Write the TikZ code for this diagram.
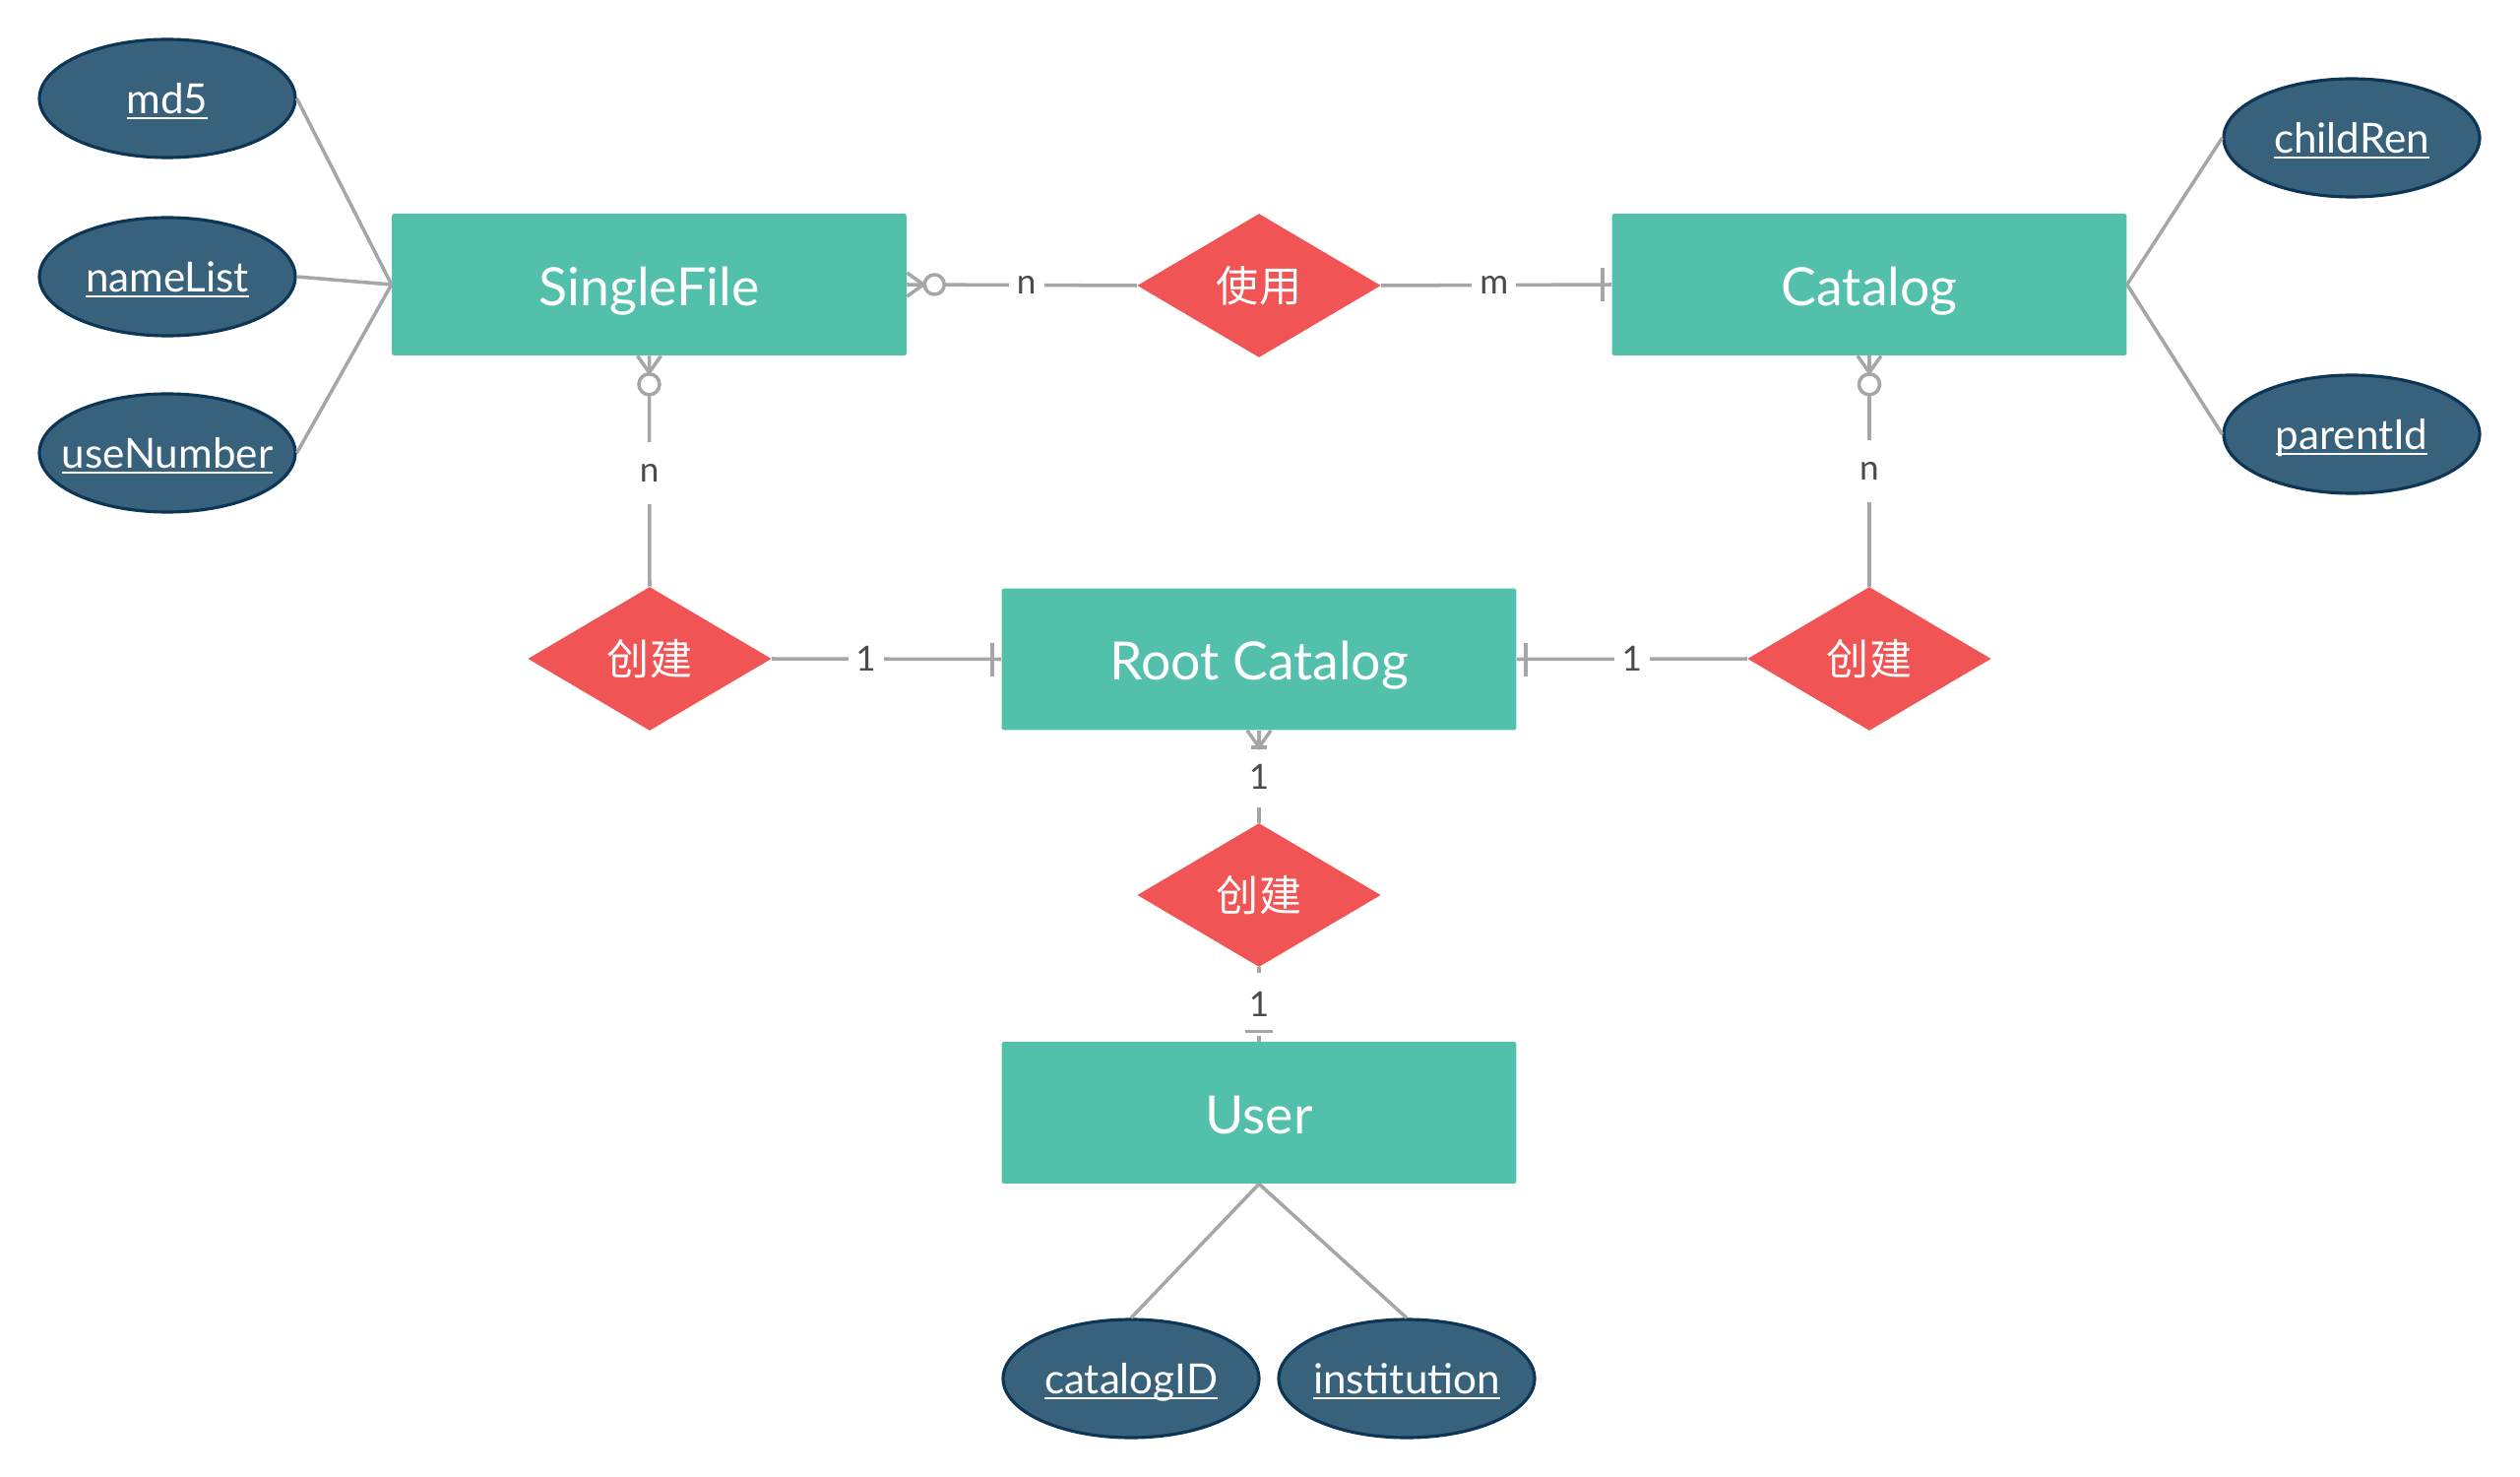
\documentclass[tikz,border=0pt]{standalone}
\usepackage{fontspec}
\setmainfont{Lato}
\newfontfamily\cjkfont{Noto Sans CJK SC}
\usetikzlibrary{shapes.geometric,calc}

\definecolor{entityteal}{HTML}{52C0AA}
\definecolor{relred}{HTML}{F05454}
\definecolor{attrfill}{HTML}{38627C}
\definecolor{attrline}{HTML}{0D3556}
\definecolor{linegray}{HTML}{A6A6A6}
\definecolor{lbltext}{HTML}{4A4A4A}

% underlined attribute name with a fixed baseline offset, zero width so the
% ellipse keeps its own size
\newcommand{\attrtext}[1]{\makebox[0pt]{\setbox0\hbox{#1}\rlap{\rule[-0.13em]{\wd0}{0.055em}}\box0}}

\begin{document}
\begin{tikzpicture}[x=0.02cm,y=-0.02cm,
  entity/.style={rectangle, fill=entityteal, text=white, minimum width=10.46cm,
    minimum height=2.88cm, inner sep=0pt, rounded corners=1pt,
    text height=24pt, text depth=0pt,
    font=\fontsize{30.5}{36}\selectfont},
  relation/.style={diamond, fill=relred, text=white, aspect=1.69, inner sep=0pt,
    minimum width=4.95cm, minimum height=2.92cm,
    font=\cjkfont\fontsize{24.5}{28}\selectfont},
  attr/.style={ellipse, fill=attrfill, draw=attrline, line width=1.8pt, text=white,
    minimum width=5.2cm, minimum height=2.4cm, inner sep=0pt,
    text height=18pt, text depth=0pt,
    font=\fontsize{24}{28}\selectfont},
  conn/.style={draw=linegray, line width=2pt},
  lbl/.style={fill=white, text=lbltext, inner xsep=4.5pt, inner ysep=0pt,
    minimum height=36pt, font=\fontsize{20}{24}\selectfont},
]
\useasboundingbox (0,0) rectangle (2560,1500);

% entities
\node[entity] (sf)   at (659.5,289)  {SingleFile};
\node[entity] (cat)  at (1899,289)   {Catalog};
\node[entity] (root) at (1279,669.5) {Root Catalog};
\node[entity] (user) at (1279,1130)  {User};

% relationships
\node[relation] (use) at (1279,290) {使用};
\node[relation] (cl)  at (660,669)  {创建};
\node[relation] (cr)  at (1899,669) {创建};
\node[relation] (cm)  at (1279,909) {创建};

% attributes
\node[attr] (md5)      at (170,100)  {\attrtext{md5}};
\node[attr] (namelist) at (170,281)  {\attrtext{nameList}};
\node[attr] (usenum)   at (170,460)  {\attrtext{useNumber}};
\node[attr] (child)    at (2389,140) {\attrtext{childRen}};
\node[attr] (parent)   at (2389,441) {\attrtext{parentId}};
\node[attr] (cid)      at (1149,1400) {\attrtext{catalogID}};
\node[attr] (inst)     at (1429,1400) {\attrtext{institution}};

% attribute links
\draw[conn] (md5.east) -- (sf.west);
\draw[conn] (namelist.east) -- (sf.west);
\draw[conn] (usenum.east) -- (sf.west);
\draw[conn] (child.west) -- (cat.east);
\draw[conn] (parent.west) -- (cat.east);
\draw[conn] (user.south) -- (cid.north);
\draw[conn] (user.south) -- (inst.north);

% SingleFile -- 使用 -- Catalog
\draw[conn] (sf.east) -- node[lbl,pos=.52] {n} (use.west);
\draw[conn] ($(sf.east)+(0,-12)$) -- ($(sf.east)+(17,0)$) -- ($(sf.east)+(0,12)$);
\draw[conn,fill=white] ($(sf.east)+(28,0)$) circle[radius=0.2cm];
\draw[conn] (use.east) -- node[lbl,pos=.49] {m} (cat.west);
\draw[conn] ($(cat.west)+(-9,-17)$) -- ($(cat.west)+(-9,17)$);

% SingleFile -- 创建 -- Root Catalog
\draw[conn] (sf.south) -- node[lbl,pos=.51] {n} (cl.north);
\draw[conn] ($(sf.south)+(-12,0)$) -- ($(sf.south)+(0,17)$) -- ($(sf.south)+(12,0)$);
\draw[conn,fill=white] ($(sf.south)+(0,29)$) circle[radius=0.21cm];
\draw[conn] (cl.east) -- node[lbl,pos=.41] {1} (root.west);
\draw[conn] ($(root.west)+(-9,-17)$) -- ($(root.west)+(-9,17)$);

% Catalog -- 创建 -- Root Catalog
\draw[conn] (cat.south) -- node[lbl,pos=.5] {n} (cr.north);
\draw[conn] ($(cat.south)+(-12,0)$) -- ($(cat.south)+(0,17)$) -- ($(cat.south)+(12,0)$);
\draw[conn,fill=white] ($(cat.south)+(0,29)$) circle[radius=0.21cm];
\draw[conn] (cr.west) -- node[lbl,pos=.5] {1} (root.east);
\draw[conn] ($(root.east)+(9,-17)$) -- ($(root.east)+(9,17)$);

% Root Catalog -- 创建 -- User
\draw[conn] (root.south) -- node[lbl,pos=.5] {1} (cm.north);
\draw[conn] ($(root.south)+(-12,0)$) -- ($(root.south)+(0,17)$) -- ($(root.south)+(12,0)$);
\draw[conn] (root.south) -- ++(0,17);
\draw[conn] ($(root.south)+(-8,17)$) -- ($(root.south)+(8,17)$);
\draw[conn] (cm.south) -- node[lbl,pos=.5] {1} (user.north);
\draw[conn] ($(user.north)+(-14,-10)$) -- ($(user.north)+(14,-10)$);
\end{tikzpicture}
\end{document}
